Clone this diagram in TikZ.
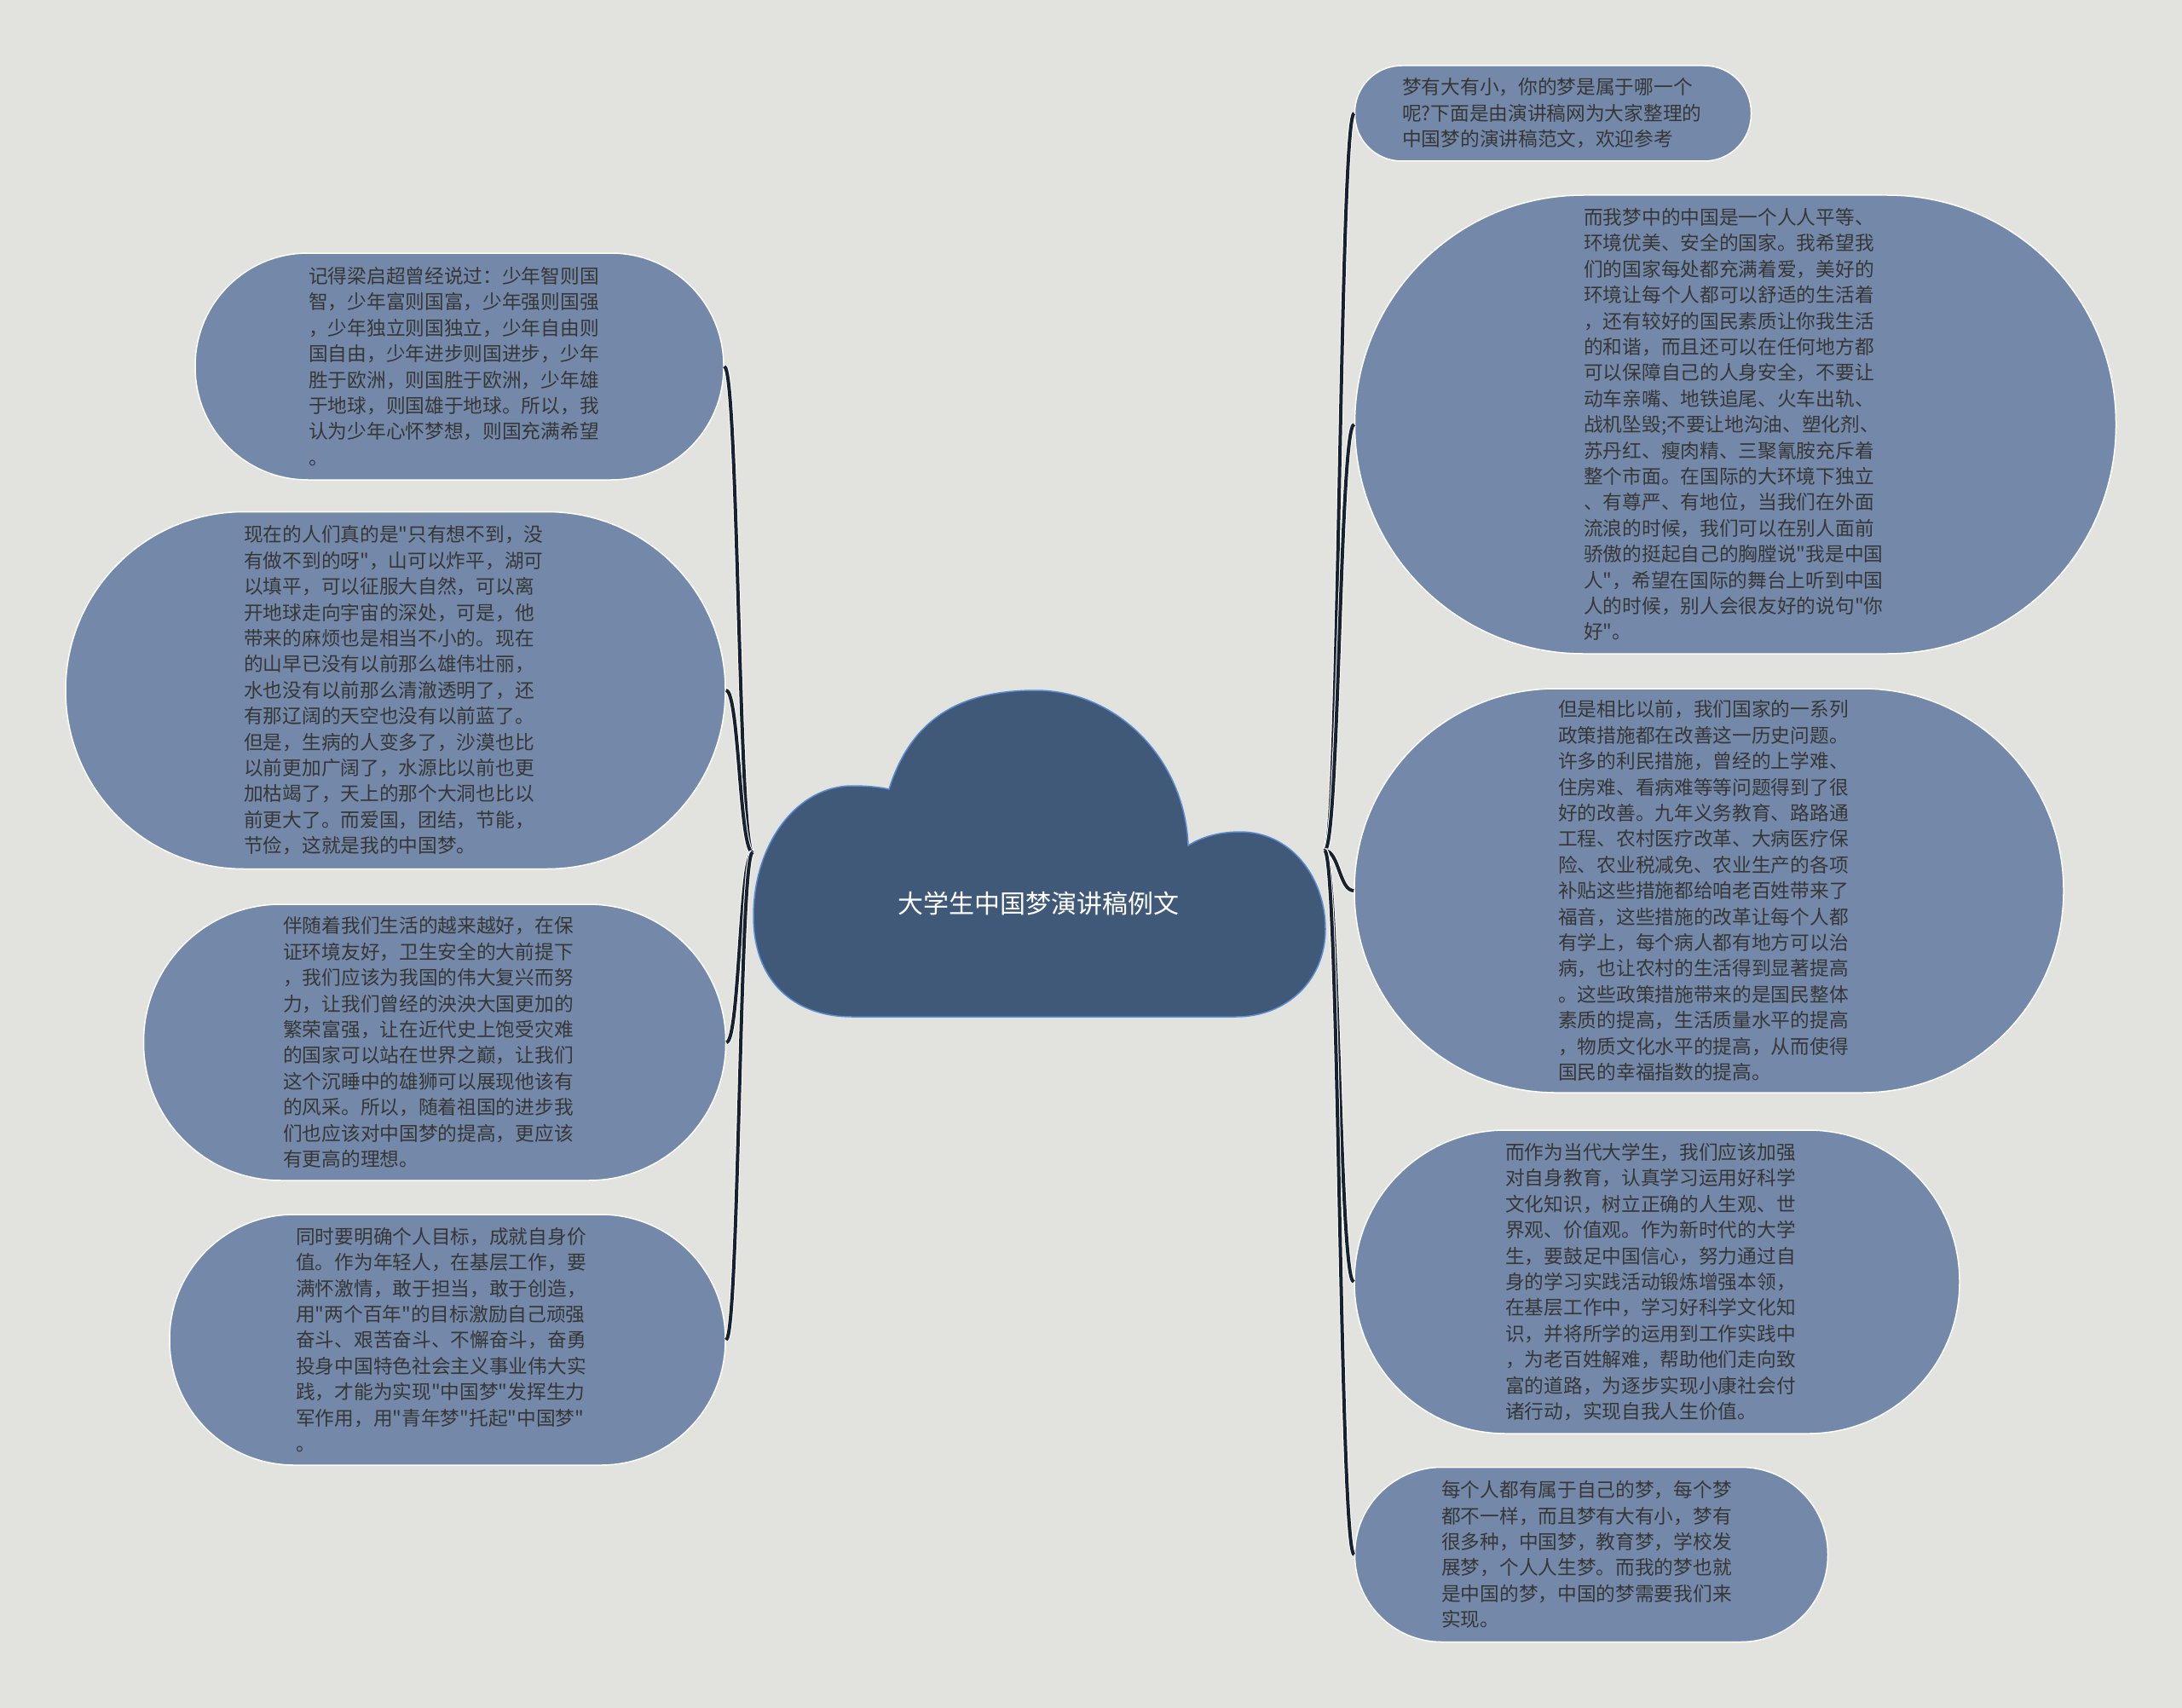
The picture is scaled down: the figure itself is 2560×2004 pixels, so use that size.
\documentclass[tikz,border=0pt]{standalone}
\usepackage{fontspec}
\setmainfont{Noto Sans CJK SC}[Ligatures=TeXOff]
\usetikzlibrary{calc}
\definecolor{bg}{HTML}{E2E3DF}
\definecolor{pillfill}{HTML}{7489A9}
\definecolor{cloudfill}{HTML}{415978}
\definecolor{cloudline}{HTML}{5A8BD0}
\definecolor{txt}{HTML}{363636}
\definecolor{conncol}{HTML}{18212E}
\newcommand\linkto[2]{\draw[conn] (#1) .. controls ($(#1)!0.5!(#1 -| #2)$) and ($(#2)!0.5!(#2 -| #1)$) .. (#2);}
\begin{document}
\begin{tikzpicture}[x=1pt,y=-1pt,
  pill/.style={draw=white, line width=1.5pt, fill=pillfill, rectangle, inner sep=0pt},
  body/.style={anchor=west, inner sep=0pt, align=left, text=txt, font=\fontsize{22.7}{30.4}\selectfont},
  conn/.style={draw=conncol, line width=4pt, preaction={draw=white, line width=6pt}},
  cloudshape/.style={fill=cloudfill, draw=cloudline, line width=1.5pt},
  titletext/.style={text=white, font=\fontsize{30}{36}\selectfont, inner sep=0pt}
]
\fill[bg] (0,0) rectangle (2560,2004);
\useasboundingbox (0,0) rectangle (2560,2004);

% central cloud
\draw[cloudshape] (1043,926) .. controls (1070,840) and (1130,810) .. (1215,810)
  .. controls (1310,810) and (1390,890) .. (1394,992)
  .. controls (1410,982) and (1430,976) .. (1455,976)
  .. controls (1515,976) and (1555,1030) .. (1555,1090)
  .. controls (1555,1150) and (1510,1193) .. (1450,1193)
  -- (1000,1193)
  .. controls (930,1193) and (884,1150) .. (884,1075)
  .. controls (884,990) and (935,922) .. (1000,922)
  .. controls (1020,922) and (1035,924) .. (1043,926) -- cycle;
\node[titletext] (title) at (1218,1060) {大学生中国梦演讲稿例文};
\coordinate (hubL) at (883,1000);
\coordinate (hubR) at (1554,998);

% left pills
\node[pill, rounded corners=132pt, minimum width=620pt, minimum height=266pt] (L1) at (539,430) {};
\node[body] (L1t) at (362,430) {记得梁启超曾经说过：少年智则国\\智，少年富则国富，少年强则国强\\，少年独立则国独立，少年自由则\\国自由，少年进步则国进步，少年\\胜于欧洲，则国胜于欧洲，少年雄\\于地球，则国雄于地球。所以，我\\认为少年心怀梦想，则国充满希望\\。};
\node[pill, rounded corners=209pt, minimum width=774pt, minimum height=419pt] (L2) at (464,810) {};
\node[body] (L2t) at (286,810) {现在的人们真的是"只有想不到，没\\有做不到的呀"，山可以炸平，湖可\\以填平，可以征服大自然，可以离\\开地球走向宇宙的深处，可是，他\\带来的麻烦也是相当不小的。现在\\的山早已没有以前那么雄伟壮丽，\\水也没有以前那么清澈透明了，还\\有那辽阔的天空也没有以前蓝了。\\但是，生病的人变多了，沙漠也比\\以前更加广阔了，水源比以前也更\\加枯竭了，天上的那个大洞也比以\\前更大了。而爱国，团结，节能，\\节俭，这就是我的中国梦。};
\node[pill, rounded corners=161pt, minimum width=683pt, minimum height=324pt] (L3) at (510,1223) {};
\node[body] (L3t) at (332,1223) {伴随着我们生活的越来越好，在保\\证环境友好，卫生安全的大前提下\\，我们应该为我国的伟大复兴而努\\力，让我们曾经的泱泱大国更加的\\繁荣富强，让在近代史上饱受灾难\\的国家可以站在世界之巅，让我们\\这个沉睡中的雄狮可以展现他该有\\的风采。所以，随着祖国的进步我\\们也应该对中国梦的提高，更应该\\有更高的理想。};
\node[pill, rounded corners=146pt, minimum width=652pt, minimum height=294pt] (L4) at (525,1572) {};
\node[body] (L4t) at (347,1572) {同时要明确个人目标，成就自身价\\值。作为年轻人，在基层工作，要\\满怀激情，敢于担当，敢于创造，\\用"两个百年"的目标激励自己顽强\\奋斗、艰苦奋斗、不懈奋斗，奋勇\\投身中国特色社会主义事业伟大实\\践，才能为实现"中国梦"发挥生力\\军作用，用"青年梦"托起"中国梦"\\。};

% right pills
\node[pill, rounded corners=55pt, minimum width=465pt, minimum height=112pt] (R1) at (1822,133) {};
\node[body] (R1t) at (1645,133) {梦有大有小，你的梦是属于哪一个\\呢?下面是由演讲稿网为大家整理的\\中国梦的演讲稿范文，欢迎参考};
\node[pill, rounded corners=268pt, minimum width=893pt, minimum height=538pt] (R2) at (2036,498) {};
\node[body] (R2t) at (1858,498) {而我梦中的中国是一个人人平等、\\环境优美、安全的国家。我希望我\\们的国家每处都充满着爱，美好的\\环境让每个人都可以舒适的生活着\\，还有较好的国民素质让你我生活\\的和谐，而且还可以在任何地方都\\可以保障自己的人身安全，不要让\\动车亲嘴、地铁追尾、火车出轨、\\战机坠毁;不要让地沟油、塑化剂、\\苏丹红、瘦肉精、三聚氰胺充斥着\\整个市面。在国际的大环境下独立\\、有尊严、有地位，当我们在外面\\流浪的时候，我们可以在别人面前\\骄傲的挺起自己的胸膛说"我是中国\\人"，希望在国际的舞台上听到中国\\人的时候，别人会很友好的说句"你\\好"。};
\node[pill, rounded corners=236pt, minimum width=832pt, minimum height=474pt] (R3) at (2005,1045) {};
\node[body] (R3t) at (1828,1045) {但是相比以前，我们国家的一系列\\政策措施都在改善这一历史问题。\\许多的利民措施，曾经的上学难、\\住房难、看病难等等问题得到了很\\好的改善。九年义务教育、路路通\\工程、农村医疗改革、大病医疗保\\险、农业税减免、农业生产的各项\\补贴这些措施都给咱老百姓带来了\\福音，这些措施的改革让每个人都\\有学上，每个病人都有地方可以治\\病，也让农村的生活得到显著提高\\。这些政策措施带来的是国民整体\\素质的提高，生活质量水平的提高\\，物质文化水平的提高，从而使得\\国民的幸福指数的提高。};
\node[pill, rounded corners=177pt, minimum width=710pt, minimum height=356pt] (R4) at (1944,1504) {};
\node[body] (R4t) at (1766,1504) {而作为当代大学生，我们应该加强\\对自身教育，认真学习运用好科学\\文化知识，树立正确的人生观、世\\界观、价值观。作为新时代的大学\\生，要鼓足中国信心，努力通过自\\身的学习实践活动锻炼增强本领，\\在基层工作中，学习好科学文化知\\识，并将所学的运用到工作实践中\\，为老百姓解难，帮助他们走向致\\富的道路，为逐步实现小康社会付\\诸行动，实现自我人生价值。};
\node[pill, rounded corners=102pt, minimum width=555pt, minimum height=205pt] (R5) at (1867,1824) {};
\node[body] (R5t) at (1691,1824) {每个人都有属于自己的梦，每个梦\\都不一样，而且梦有大有小，梦有\\很多种，中国梦，教育梦，学校发\\展梦，个人人生梦。而我的梦也就\\是中国的梦，中国的梦需要我们来\\实现。};

% connectors
\linkto{hubL}{L1.east}
\linkto{hubL}{L2.east}
\linkto{hubL}{L3.east}
\linkto{hubL}{L4.east}
\linkto{hubR}{R1.west}
\linkto{hubR}{R2.west}
\linkto{hubR}{R3.west}
\linkto{hubR}{R4.west}
\linkto{hubR}{R5.west}
\end{tikzpicture}
\end{document}
